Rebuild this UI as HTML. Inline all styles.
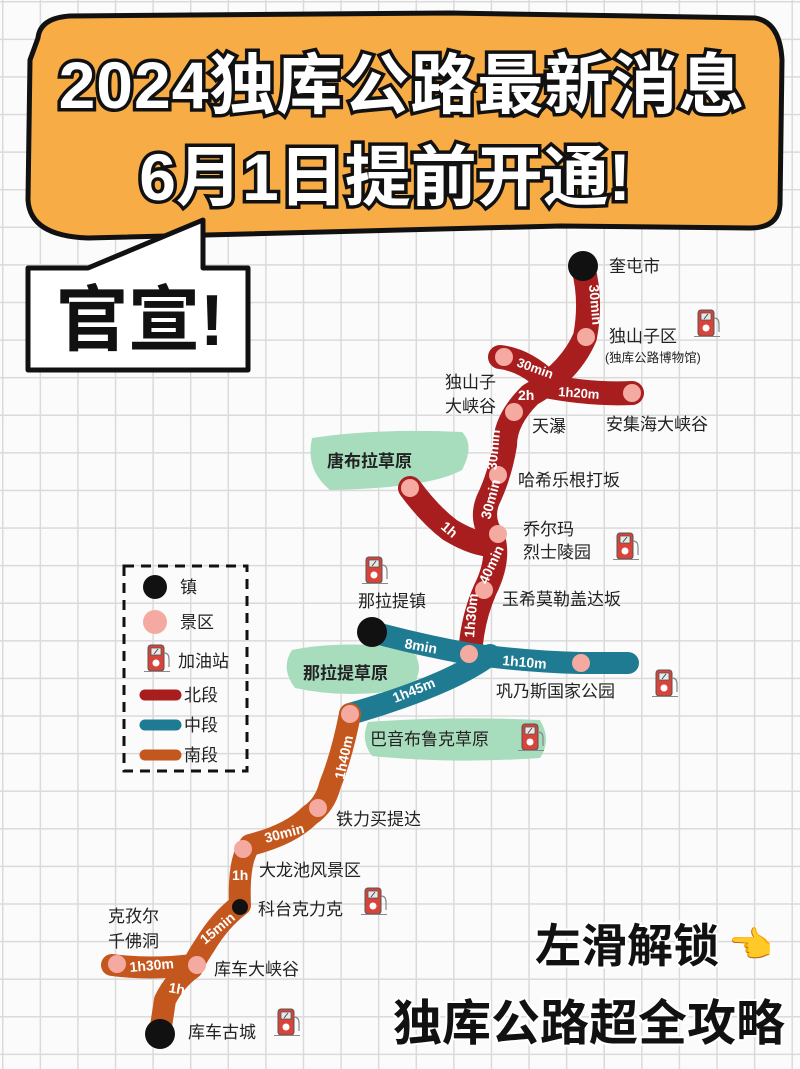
<!DOCTYPE html>
<html><head><meta charset="utf-8">
<style>
html,body{margin:0;padding:0}
body{width:800px;height:1069px;overflow:hidden;position:relative;background:#fbfbfb;
background-image:linear-gradient(#dadada 1.3px,transparent 1.3px),linear-gradient(90deg,#dadada 1.3px,transparent 1.3px);
background-size:37.6px 37.6px;background-position:2px 1px;font-family:"Liberation Sans","Noto Sans CJK SC",sans-serif}
svg{position:absolute;left:0;top:0}
</style></head><body>
<svg width="800" height="1069" viewBox="0 0 800 1069" font-family="Liberation Sans, Noto Sans CJK SC, sans-serif">
<defs>
<g id="gas">
<rect x="0" y="0" width="16" height="26" rx="3" fill="#d9443a" stroke="#555" stroke-width="1"/>
<rect x="3" y="3" width="10" height="7" fill="#e8e8e8" stroke="#555" stroke-width="0.8"/>
<line x1="6" y1="9" x2="10" y2="4" stroke="#333" stroke-width="0.8"/>
<circle cx="8" cy="18" r="3.5" fill="#fff"/>
<path d="M16 8 q5 0 5 6 v8" fill="none" stroke="#888" stroke-width="1.2"/>
<line x1="-4" y1="26.5" x2="22" y2="26.5" stroke="#888" stroke-width="1"/>
</g>
</defs>
<!-- header bubble -->
<path d="M38 38 Q40 18 70 16 L450 13 L755 18 Q780 22 782 60 L780 205 Q778 228 750 228 L560 226 L88 238 Q30 236 28 200 L30 60 Z" fill="#f8ac46" stroke="#111" stroke-width="5" stroke-linejoin="round"/>
<path d="M28 268 L88 268 L203 220 L203 268 L248 268 L248 370 L28 370 Z" fill="#fff" stroke="#111" stroke-width="5" stroke-linejoin="round"/>
<text x="402" y="108" text-anchor="middle" font-size="66" font-weight="bold" fill="#fff" stroke="#111" stroke-width="7" paint-order="stroke" letter-spacing="1">2024独库公路最新消息</text>
<text x="385" y="200" text-anchor="middle" font-size="66" font-weight="bold" fill="#fff" stroke="#111" stroke-width="7" paint-order="stroke">6月1日提前开通!</text>
<text x="140" y="345" text-anchor="middle" font-size="72" font-weight="bold" fill="#111">官宣!</text>

<!-- green meadows -->
<path d="M312 438 Q380 428 462 432 Q475 445 462 470 Q430 488 330 490 Q305 470 312 438Z" fill="#a7dcbc"/>
<path d="M292 650 Q340 640 410 648 Q428 668 410 688 Q350 700 295 688 Q280 668 292 650Z" fill="#a7dcbc"/>
<path d="M368 722 Q450 716 540 720 Q552 740 540 758 Q450 764 372 756 Q360 740 368 722Z" fill="#a7dcbc"/>

<!-- north red -->
<g fill="none" stroke="#a81e1f" stroke-width="24" stroke-linecap="round" stroke-linejoin="round">
<path d="M583 267 Q592 300 585 337 Q570 372 530 395 Q505 420 505 445 Q500 475 488 500 Q480 520 493 537 Q500 560 485 590 Q472 620 470 655"/>
<path d="M548 382 Q525 360 500 357"/>
<path d="M540 385 Q590 395 632 393"/>
<path d="M410 488 Q430 515 450 530 Q475 545 493 545"/>
</g>
<!-- middle teal -->
<g fill="none" stroke="#1f7b91" stroke-width="22" stroke-linecap="round" stroke-linejoin="round">
<path d="M372 632 Q420 645 470 654 Q530 662 580 663 L628 663"/>
<path d="M490 655 Q450 685 350 714"/>
</g>
<!-- south orange -->
<g fill="none" stroke="#c4571d" stroke-width="22" stroke-linecap="round" stroke-linejoin="round">
<path d="M350 714 Q342 755 330 785 Q325 805 310 815 Q290 835 250 845 Q238 860 240 905 Q220 920 205 945 Q195 960 192 968 Q175 980 165 1000 L160 1033"/>
<path d="M192 965 Q150 970 112 965"/>
</g>

<!-- nodes -->
<g fill="#f5aaa1">
<circle cx="586" cy="337" r="9"/><circle cx="504" cy="357" r="9"/><circle cx="632" cy="393" r="9"/>
<circle cx="514" cy="412" r="9"/><circle cx="498" cy="475" r="9"/><circle cx="410" cy="488" r="9"/>
<circle cx="498" cy="534" r="9"/><circle cx="484" cy="590" r="9"/><circle cx="469" cy="654" r="9"/>
<circle cx="581" cy="663" r="9"/><circle cx="350" cy="714" r="9"/><circle cx="318" cy="808" r="9"/>
<circle cx="243" cy="849" r="9"/><circle cx="197" cy="965" r="9"/><circle cx="117" cy="964" r="9"/>
</g>
<g fill="#111">
<circle cx="583" cy="266" r="15"/><circle cx="372" cy="632" r="15"/><circle cx="240" cy="907" r="8"/><circle cx="160" cy="1034" r="15"/>
</g>

<!-- segment labels -->
<g fill="#fff" font-weight="bold" font-size="14">
<text transform="translate(589,285) rotate(85)">30min</text>
<text x="516" y="366" transform="rotate(20 516 366)" font-size="13">30min</text>
<text x="518" y="400" font-size="14">2h</text>
<text x="558" y="396" transform="rotate(4 558 396)" font-size="13">1h20m</text>
<text transform="translate(500,430) rotate(-85)" text-anchor="end">30min</text>
<text transform="translate(490,520) rotate(-75)">30min</text>
<text x="440" y="528" transform="rotate(40 440 528)">1h</text>
<text transform="translate(487,585) rotate(-65)">40min</text>
<text transform="translate(474,638) rotate(-85)">1h30m</text>
<text x="404" y="648" transform="rotate(10 404 648)">8min</text>
<text x="502" y="665" transform="rotate(5 502 665)">1h10m</text>
<text x="395" y="703" transform="rotate(-22 395 703)">1h45m</text>
<text transform="translate(344,780) rotate(-78)">1h40m</text>
<text x="266" y="843" transform="rotate(-15 266 843)">30min</text>
<text x="232" y="880">1h</text>
<text x="205" y="945" transform="rotate(-40 205 945)">15min</text>
<text x="130" y="972" transform="rotate(-5 130 972)">1h30m</text>
<text x="168" y="992" transform="rotate(10 168 992)">1h</text>
</g>

<!-- labels -->
<g font-size="17" fill="#222">
<text x="609" y="272">奎屯市</text>
<text x="609" y="342">独山子区</text>
<text x="605" y="362" font-size="12.5">(独库公路博物馆)</text>
<text x="445" y="388">独山子</text>
<text x="445" y="412">大峡谷</text>
<text x="532" y="432">天瀑</text>
<text x="606" y="430">安集海大峡谷</text>
<text x="518" y="486">哈希乐根打坂</text>
<text x="523" y="535">乔尔玛</text>
<text x="523" y="558">烈士陵园</text>
<text x="502" y="605">玉希莫勒盖达坂</text>
<text x="358" y="607">那拉提镇</text>
<text x="496" y="697">巩乃斯国家公园</text>
<text x="370" y="745">巴音布鲁克草原</text>
<text x="336" y="825">铁力买提达</text>
<text x="259" y="876">大龙池风景区</text>
<text x="258" y="915">科台克力克</text>
<text x="108" y="922">克孜尔</text>
<text x="108" y="947">千佛洞</text>
<text x="214" y="975">库车大峡谷</text>
<text x="188" y="1038">库车古城</text>
<text x="327" y="467" font-weight="bold">唐布拉草原</text>
<text x="303" y="679" font-weight="bold">那拉提草原</text>
</g>

<!-- gas stations -->
<use href="#gas" x="698" y="310"/>
<use href="#gas" x="617" y="533"/>
<use href="#gas" x="366" y="557"/>
<use href="#gas" x="656" y="670"/>
<use href="#gas" x="522" y="724"/>
<use href="#gas" x="365" y="888"/>
<use href="#gas" x="278" y="1009"/>

<!-- legend -->
<rect x="124" y="566" width="123" height="205" fill="none" stroke="#111" stroke-width="3" stroke-dasharray="10 7"/>
<circle cx="155" cy="587" r="12" fill="#111"/>
<circle cx="155" cy="622" r="12" fill="#f5aaa1"/>
<use href="#gas" x="148" y="645"/>
<g stroke-width="11" stroke-linecap="round"><line x1="145" y1="695" x2="176" y2="695" stroke="#a81e1f"/><line x1="145" y1="725" x2="176" y2="725" stroke="#1f7b91"/><line x1="145" y1="755" x2="176" y2="755" stroke="#c4571d"/></g>
<g font-size="17" fill="#222"><text x="180" y="593">镇</text><text x="180" y="628">景区</text><text x="178" y="667">加油站</text><text x="184" y="701">北段</text><text x="184" y="731">中段</text><text x="184" y="761">南段</text></g>

<!-- bottom -->
<text x="535" y="962" font-size="46" font-weight="bold" fill="#111" stroke="#fff" stroke-width="4" paint-order="stroke">左滑解锁</text>
<text x="728" y="957" font-size="36">👈</text>
<text x="393" y="1040" font-size="49" font-weight="bold" fill="#111" stroke="#fff" stroke-width="4" paint-order="stroke">独库公路超全攻略</text>
</svg>
</body></html>
